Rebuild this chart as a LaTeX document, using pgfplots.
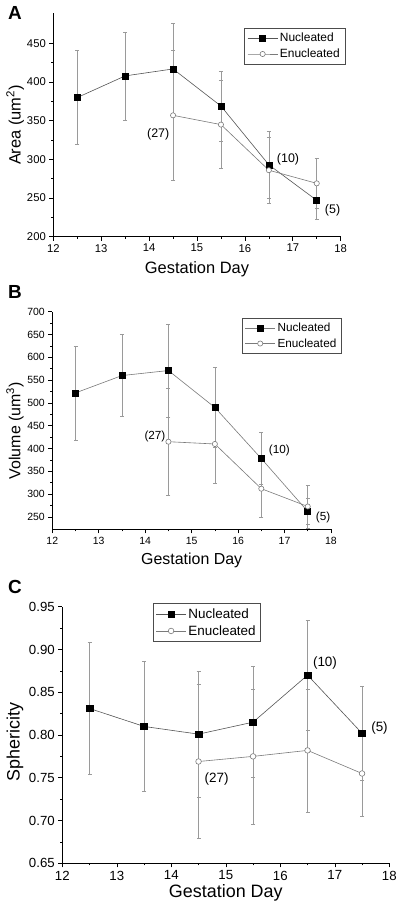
\documentclass[border=0pt]{standalone}
\usepackage{fontspec}
\setmainfont{Liberation Sans}
\usepackage{pgfplots}
\pgfplotsset{compat=1.18}
\definecolor{errgray}{HTML}{9A9A9A}
\definecolor{nline}{HTML}{555555}
\definecolor{eline}{HTML}{7A7A7A}
\pgfplotsset{
  panel/.style={
    scale only axis,
    anchor=south west,
    axis lines*=left,
    axis line style={black, line width=0.9bp},
    tick align=outside,
    tick style={black, line width=0.6bp},
    major tick length=4bp,
    minor tick length=2.2bp,
    xmin=12, xmax=18,
    xtick={12,...,18},
    minor x tick num=1,
    minor y tick num=1,
    clip=false,
    /pgf/number format/assume math mode=true,
    legend cell align=left,
    legend style={draw=black!70, line width=0.5bp, fill=white, inner xsep=3bp, inner ysep=3bp, row sep=1.5bp},
    legend image code/.code={\draw[mark repeat=2,mark phase=2,##1] plot coordinates {(0bp,0bp) (15bp,0bp) (30bp,0bp)};},
  },
  errs/.style={
    error bars/y dir=both, error bars/y explicit,
    error bars/error bar style={errgray, line width=0.6bp},
    error bars/error mark options={rotate=90, mark size=2bp, errgray, line width=0.6bp}},
  nuc/.style={color=nline, line width=0.6bp, mark=square*, mark size=3bp,
    mark options={solid, fill=black, draw=black}, errs},
  enuc/.style={color=eline, line width=0.6bp, mark=*, mark size=2.6bp,
    mark options={solid, fill=white, draw=eline}, errs},
}
\begin{document}
\begin{tikzpicture}
\useasboundingbox (0,0) rectangle (400bp,914bp);
% Panel letters
\node[font=\bfseries\fontsize{19}{19}\selectfont] at (15bp,901bp) {A};
\node[font=\bfseries\fontsize{19}{19}\selectfont] at (15bp,622.3bp) {B};
\node[font=\bfseries\fontsize{19}{19}\selectfont] at (15bp,327.3bp) {C};

% ---------------- Panel A
\begin{axis}[panel,
  at={(53.3bp,677.3bp)}, width=287.4bp, height=223.4bp,
  ymin=200, ymax=489,
  ytick={200,250,...,450},
  tick label style={font=\fontsize{11.3}{13}\selectfont},
  every axis x label/.style={at={(axis description cs:0.5,-0.145)}, anchor=center},
  every axis y label/.style={at={(axis description cs:-0.133,0.5)}, anchor=center, rotate=90},
  label style={font=\fontsize{16.5}{18}\selectfont},
  xlabel={Gestation Day},
  ylabel={Area (um\textsuperscript{2})},
  legend style={at={(axis description cs:1.015,0.934)}, anchor=north east, font=\fontsize{12}{13}\selectfont},
]
\addplot[nuc] table[x=x, y=y, y error=e] {
x y e
12.5 380 61
13.5 408 57
14.5 417 59
15.5 369 45
16.5 293 43
17.5 247 24
};
\addlegendentry{Nucleated}
\addplot[enuc] table[x=x, y=y, y error=e] {
x y e
14.5 357 84
15.5 345 57
16.5 286 43
17.5 269 32
};
\addlegendentry{Enucleated}
\node[font=\fontsize{12.5}{14}\selectfont] at (axis cs:14.19,332) {(27)};
\node[font=\fontsize{12.5}{14}\selectfont] at (axis cs:16.9,300) {(10)};
\node[font=\fontsize{12.5}{14}\selectfont] at (axis cs:17.83,233.6) {(5)};
\end{axis}

% ---------------- Panel B
\begin{axis}[panel,
  at={(52.3bp,384.7bp)}, width=278.7bp, height=217.6bp,
  ymin=223, ymax=700,
  ytick={250,300,...,700},
  tick label style={font=\fontsize{10.5}{12}\selectfont},
  every axis x label/.style={at={(axis description cs:0.5,-0.141)}, anchor=center},
  every axis y label/.style={at={(axis description cs:-0.134,0.453)}, anchor=center, rotate=90},
  label style={font=\fontsize{16}{17}\selectfont},
  xlabel={Gestation Day},
  ylabel={Volume (um\textsuperscript{3})},
  legend style={at={(axis description cs:1.038,0.972)}, anchor=north east, font=\fontsize{11.8}{13}\selectfont},
]
\addplot[nuc, color=eline] table[x=x, y=y, y error=e] {
x y e
12.5 522 103
13.5 560 90
14.5 571 102
15.5 490 88
16.5 378 57
17.5 262 29
};
\addlegendentry{Nucleated}
\addplot[enuc] table[x=x, y=y, y error=e] {
x y e
14.5 415 118
15.5 410 87
16.5 312 62
17.5 273 47
};
\addlegendentry{Enucleated}
\node[font=\fontsize{11.8}{13}\selectfont] at (axis cs:14.21,426) {(27)};
\node[font=\fontsize{11.8}{13}\selectfont] at (axis cs:16.89,395) {(10)};
\node[font=\fontsize{11.8}{13}\selectfont] at (axis cs:17.83,250) {(5)};
\end{axis}

% ---------------- Panel C
\begin{axis}[panel,
  at={(62.3bp,50.7bp)}, width=327bp, height=256.6bp,
  ymin=0.65, ymax=0.95,
  ytick={0.65,0.70,...,0.951},
  yticklabel style={/pgf/number format/.cd, fixed, fixed zerofill, precision=2},
  tick label style={font=\fontsize{13.3}{15}\selectfont},
  every axis x label/.style={at={(axis description cs:0.5,-0.117)}, anchor=center},
  every axis y label/.style={at={(axis description cs:-0.145,0.474)}, anchor=center, rotate=90},
  label style={font=\fontsize{18}{19}\selectfont},
  xlabel={Gestation Day},
  ylabel={Sphericity},
  legend style={at={(axis description cs:0.276,1.013)}, anchor=north west, font=\fontsize{13.5}{15}\selectfont},
]
\addplot[nuc, mark size=3.3bp] table[x=x, y=y, y error=e] {
x y e
12.5 0.831 0.077
13.5 0.810 0.076
14.5 0.801 0.074
15.5 0.815 0.065
16.5 0.870 0.064
17.5 0.802 0.055
};
\addlegendentry{Nucleated}
\addplot[enuc, mark size=2.8bp] table[x=x, y=y, y error=e] {
x y e
14.5 0.769 0.090
15.5 0.775 0.079
16.5 0.782 0.072
17.5 0.755 0.050
};
\addlegendentry{Enucleated}
\node[font=\fontsize{13.5}{15}\selectfont] at (axis cs:14.83,0.7485) {(27)};
\node[font=\fontsize{13.5}{15}\selectfont] at (axis cs:16.82,0.884) {(10)};
\node[font=\fontsize{13.5}{15}\selectfont] at (axis cs:17.82,0.808) {(5)};
\end{axis}
\end{tikzpicture}
\end{document}
